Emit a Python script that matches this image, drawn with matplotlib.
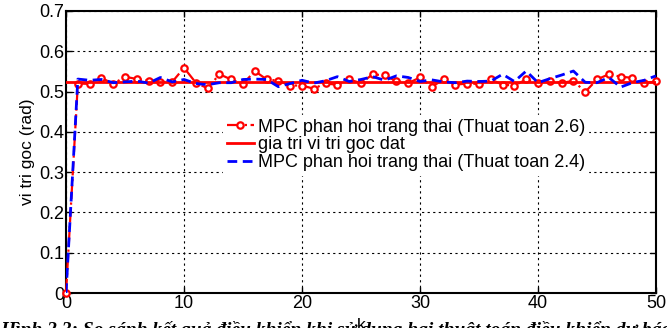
import matplotlib
matplotlib.use("Agg")
import matplotlib.pyplot as plt
from matplotlib.ticker import FuncFormatter

k = list(range(51))
# MPC phan hoi trang thai (Thuat toan 2.6)
y26 = [0.0, 0.520, 0.519, 0.534, 0.519, 0.537, 0.531, 0.527, 0.524, 0.524,
       0.559, 0.522, 0.508, 0.543, 0.530, 0.519, 0.551, 0.530, 0.527, 0.515,
       0.515, 0.507, 0.521, 0.516, 0.530, 0.521, 0.543, 0.540, 0.526, 0.521,
       0.535, 0.512, 0.530, 0.517, 0.520, 0.519, 0.530, 0.517, 0.515, 0.530,
       0.521, 0.527, 0.521, 0.527, 0.499, 0.530, 0.543, 0.537, 0.534, 0.521,
       0.525]
# MPC phan hoi trang thai (Thuat toan 2.4)
y24 = [0.0, 0.531, 0.528, 0.530, 0.522, 0.524, 0.526, 0.521, 0.535, 0.524,
       0.530, 0.520, 0.517, 0.522, 0.522, 0.530, 0.531, 0.530, 0.512, 0.520,
       0.528, 0.521, 0.527, 0.537, 0.525, 0.530, 0.537, 0.528, 0.539, 0.535,
       0.525, 0.529, 0.524, 0.522, 0.526, 0.525, 0.526, 0.543, 0.525, 0.551,
       0.522, 0.532, 0.541, 0.551, 0.523, 0.522, 0.535, 0.511, 0.522, 0.528,
       0.539]
setpoint = 0.5236

labels = ["MPC phan hoi trang thai (Thuat toan 2.6)",
          "gia tri vi tri goc dat",
          "MPC phan hoi trang thai (Thuat toan 2.4)"]
xticks = [0, 10, 20, 30, 40, 50]
yticks = [0, 0.1, 0.2, 0.3, 0.4, 0.5, 0.6, 0.7]
caption = ("Hình 2.3: So sánh kết quả điều khiển khi sử dụng hai thuật toán "
           "điều khiển dự báo")

plt.rcParams['font.family'] = ['Liberation Sans', 'DejaVu Sans']

fig = plt.figure(figsize=(6.67, 3.28), dpi=100)
ax = fig.add_axes([0.099, 0.1067, 0.8845, 0.8598])

ax.plot(k, y26, color='red', linestyle='-.', linewidth=1.6, marker='o',
        markersize=4.6, markerfacecolor='white', markeredgewidth=1.6,
        label=labels[0], zorder=3, clip_on=False)
ax.plot([k[0], k[-1]], [setpoint, setpoint], color='red', linewidth=2.0,
        label=labels[1], zorder=4)
ax.plot(k, y24, color='blue', linestyle=(0, (3.5, 2)), linewidth=2.0,
        label=labels[2], zorder=5)

ax.set_xlim(0, 50)
ax.set_ylim(0, 0.7)
ax.set_xticks(xticks)
ax.set_yticks(yticks)
ax.yaxis.set_major_formatter(FuncFormatter(lambda v, p: ('%g' % round(v, 2))))
ax.tick_params(direction='in', top=True, right=True, labelsize=13, length=4,
               width=1, colors='black', pad=1.5)
ax.grid(True, color='black', linestyle=(0, (2, 3)), linewidth=0.8)
for s in ax.spines.values():
    s.set_linewidth(1.5)
ax.set_xlabel('k', fontsize=12.5, labelpad=4)
ax.set_ylabel('vi tri goc (rad)', fontsize=12.5, labelpad=3)

leg = ax.legend(loc='center', bbox_to_anchor=(0.576, 0.525), fontsize=13,
                frameon=True, fancybox=False, framealpha=1, edgecolor='white',
                handlelength=1.5, handletextpad=0.2, borderpad=0.2,
                labelspacing=0.05)
leg.set_zorder(10)

fig.text(0.0, 0.021, caption, fontsize=14, fontweight='bold', fontstyle='italic',
         family=['Liberation Serif', 'DejaVu Serif'], va='top', ha='left')

fig.savefig('out.png', dpi=100)
